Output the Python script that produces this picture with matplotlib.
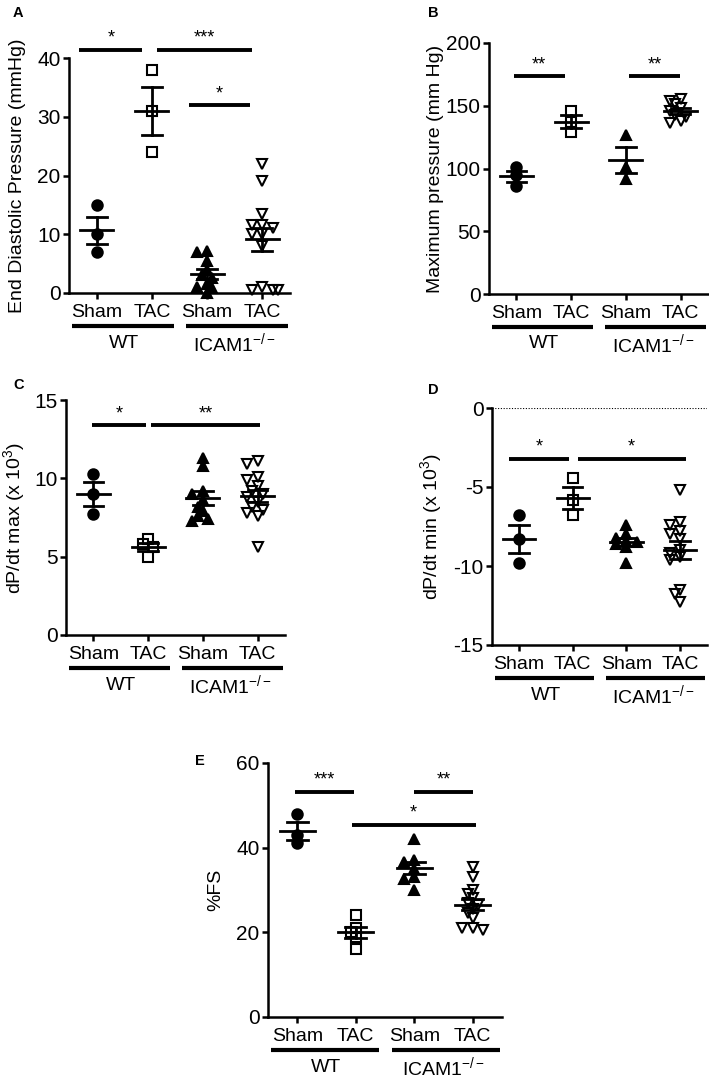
"""Hemodynamic and echo comparison, WT vs ICAM1-/- (Sham / TAC)."""

import matplotlib
matplotlib.use("Agg")
import matplotlib.pyplot as plt
import matplotlib.transforms as mtransforms
import numpy as np

plt.rcParams["font.family"] = ["Liberation Sans", "DejaVu Sans"]
plt.rcParams["mathtext.fontset"] = "custom"
plt.rcParams["mathtext.rm"] = "Liberation Sans"
plt.rcParams["mathtext.it"] = "Liberation Sans:italic"
plt.rcParams["mathtext.bf"] = "Liberation Sans:bold"
plt.rcParams["axes.unicode_minus"] = False

GROUPS = ["Sham", "TAC", "Sham", "TAC"]
GENOTYPES = ["WT", r"ICAM1$^{-/-}$"]

# A: end diastolic pressure (mmHg)
edp_wt_sham = [15.0, 10.0, 7.0]
edp_wt_tac = [38.0, 31.0, 24.0]
edp_ko_sham = [7.2, 7.0, 5.5, 4.0, 3.0, 2.5, 1.5, 1.0, 0.8, 0.0]
edp_ko_tac = [22.0, 19.0, 13.5, 11.5, 11.5, 11.0, 10.0, 10.0, 8.0, 1.0, 0.5, 0.5, 0.5]
edp_sig = [(0.69, 1.83, 41.4, "*"), (2.09, 3.82, 41.4, "***"), (2.68, 3.77, 32.0, "*")]

# B: maximum pressure (mm Hg)
pmax_wt_sham = [101.0, 95.0, 86.0]
pmax_wt_tac = [146.0, 137.0, 129.0]
pmax_ko_sham = [127.0, 101.0, 92.0]
pmax_ko_tac = [155.0, 154.0, 151.0, 148.0, 146.0, 143.0, 141.0, 138.0, 136.0]
pmax_sig = [(0.95, 1.88, 173.5, "**"), (3.06, 3.98, 173.5, "**")]

# C: dP/dt max (x 10^3)
dpmax_wt_sham = [10.3, 9.0, 7.7]
dpmax_wt_tac = [6.1, 5.8, 5.6, 5.0]
dpmax_ko_sham = [11.3, 10.8, 9.2, 9.0, 8.6, 8.2, 7.9, 7.6, 7.4, 7.3]
dpmax_ko_tac = [11.1, 10.9, 10.1, 9.9, 9.5, 9.2, 9.0, 8.8, 8.5, 8.2, 8.0, 7.8, 7.6, 5.6]
dpmax_sig = [(0.98, 1.96, 13.4, "*"), (2.05, 4.05, 13.4, "**")]

# D: dP/dt min (x 10^3)
dpmin_wt_sham = [-6.8, -8.3, -9.8]
dpmin_wt_tac = [-4.4, -5.8, -6.8]
dpmin_ko_sham = [-7.4, -8.0, -8.2, -8.4, -8.5, -8.6, -8.8, -9.8]
dpmin_ko_tac = [-5.2, -7.2, -7.4, -7.8, -8.0, -8.3, -9.0, -9.2, -9.4, -9.6, -11.5, -11.8, -12.3]
dpmin_sig = [(0.81, 1.94, -3.2, "*"), (2.10, 4.10, -3.2, "*")]

# E: fractional shortening (%)
fs_wt_sham = [48.0, 43.0, 41.0]
fs_wt_tac = [24.0, 21.0, 20.0, 19.0, 16.0]
fs_ko_sham = [42.0, 37.0, 36.5, 35.0, 33.0, 32.5, 30.0]
fs_ko_tac = [35.5, 33.0, 30.0, 29.0, 28.0, 27.0, 26.5, 25.5, 24.5, 23.5, 21.0, 21.0, 20.5]
fs_sig = [(0.97, 1.97, 53.2, "***"), (3.0, 4.0, 53.2, "**"), (1.93, 4.05, 45.4, "*")]

W, H = 709, 1079
MARKERS = [("o", "k"), ("s", "none"), ("^", "k"), ("v", "none")]


def rect(left, top, right, bottom):
    return [left / W, 1 - bottom / H, (right - left) / W, (bottom - top) / H]


def swarm(ax, x0, values, diam):
    """Simple beeswarm: spread overlapping points sideways (pixel space)."""
    t = ax.transData
    px_per_x = t.transform((1, 0))[0] - t.transform((0, 0))[0]
    placed = []
    xs = np.full(len(values), float(x0))
    for i in np.argsort(values)[::-1]:
        cy = t.transform((x0, values[i]))[1]
        for k in [0, -1, 1, -2, 2, -3, 3]:
            cx = k * diam * 0.5
            if all((cx - qx) ** 2 + (cy - qy) ** 2 >= (diam * 0.6) ** 2 for qx, qy in placed):
                break
        placed.append((cx, cy))
        xs[i] = x0 + cx / px_per_x
    return xs


def panel(fig, box, groups, ylim, yticks, ylabel, labelpad, sig, letter, letter_xy):
    ax = fig.add_axes(rect(*box))
    ax.set_xlim(0.5, 4.5)
    ax.set_ylim(*ylim)
    for side in ("top", "right"):
        ax.spines[side].set_visible(False)
    for side in ("left", "bottom"):
        ax.spines[side].set_linewidth(1.8)
    ax.tick_params(direction="out", length=4.5, width=1.8)
    ax.tick_params(axis="y", labelsize=15, pad=1.5)
    ax.tick_params(axis="x", labelsize=14, pad=3.5)
    ax.set_yticks(yticks)
    ax.set_xticks([1, 2, 3, 4])
    ax.set_xticklabels(GROUPS)
    ax.set_ylabel(ylabel, fontsize=14, labelpad=labelpad)

    for i, vals in enumerate(groups):
        x0 = i + 1
        mk, fc = MARKERS[i]
        xs = swarm(ax, x0, vals, 10.5)
        ax.plot(xs, vals, ls="none", marker=mk, ms=7.5 if mk == "o" else 7,
                mfc=fc, mec="k", mew=1.5, clip_on=False, zorder=3)
        v = np.asarray(vals)
        m = v.mean()
        sem = v.std(ddof=1) / np.sqrt(len(v))
        ax.plot([x0 - 0.3, x0 + 0.3], [m, m], color="k", lw=2, zorder=4)
        ax.plot([x0, x0], [m - sem, m + sem], color="k", lw=2, zorder=4)
        for yy in (m - sem, m + sem):
            ax.plot([x0 - 0.18, x0 + 0.18], [yy, yy], color="k", lw=2, zorder=4)

    span = ylim[1] - ylim[0]
    for x1, x2, yv, stars in sig:
        ax.plot([x1, x2], [yv, yv], color="k", lw=2.8, clip_on=False,
                solid_capstyle="butt")
        ax.text((x1 + x2) / 2, yv + span * 0.012, stars, ha="center", va="bottom",
                fontsize=13)

    base = ax.get_xaxis_transform()
    ul = mtransforms.offset_copy(base, fig=fig, y=-23.5, units="points")
    gl = mtransforms.offset_copy(base, fig=fig, y=-36, units="points")
    for (x1, x2), name, xc in zip([(0.55, 2.4), (2.62, 4.47)], GENOTYPES, [1.5, 3.5]):
        ax.plot([x1, x2], [0, 0], transform=ul, color="k", lw=3, clip_on=False,
                solid_capstyle="butt")
        ax.text(xc, 0, name, transform=gl, ha="center", va="center", fontsize=14)

    fig.text(letter_xy[0] / W, 1 - letter_xy[1] / H, letter, fontsize=10.5,
             fontweight="bold", ha="left", va="center")
    return ax


fig = plt.figure(figsize=(W / 100, H / 100), dpi=100)

panel(fig, (69, 58, 290, 293),
      [edp_wt_sham, edp_wt_tac, edp_ko_sham, edp_ko_tac],
      (0, 40), [0, 10, 20, 30, 40], "End Diastolic Pressure (mmHg)", 8,
      edp_sig, "A", (13, 13))

panel(fig, (489, 43, 708, 294),
      [pmax_wt_sham, pmax_wt_tac, pmax_ko_sham, pmax_ko_tac],
      (0, 200), [0, 50, 100, 150, 200], "Maximum pressure (mm Hg)", 1,
      pmax_sig, "B", (428, 13))

panel(fig, (66, 400, 285, 635),
      [dpmax_wt_sham, dpmax_wt_tac, dpmax_ko_sham, dpmax_ko_tac],
      (0, 15), [0, 5, 10, 15], r"dP/dt max (x 10$^3$)", 5,
      dpmax_sig, "C", (13, 385))

axd = panel(fig, (492, 408, 707, 645),
            [dpmin_wt_sham, dpmin_wt_tac, dpmin_ko_sham, dpmin_ko_tac],
            (-15, 0), [-15, -10, -5, 0], r"dP/dt min (x 10$^3$)", 7,
            dpmin_sig, "D", (428, 390))
axd.axhline(0, color="k", lw=0.8, ls=(0, (1, 1.5)), zorder=1)

panel(fig, (268, 763, 502, 1017),
      [fs_wt_sham, fs_wt_tac, fs_ko_sham, fs_ko_tac],
      (0, 60), [0, 20, 40, 60], "%FS", 9,
      fs_sig, "E", (195, 761))

fig.savefig("out.png", dpi=100)
plt.close(fig)
